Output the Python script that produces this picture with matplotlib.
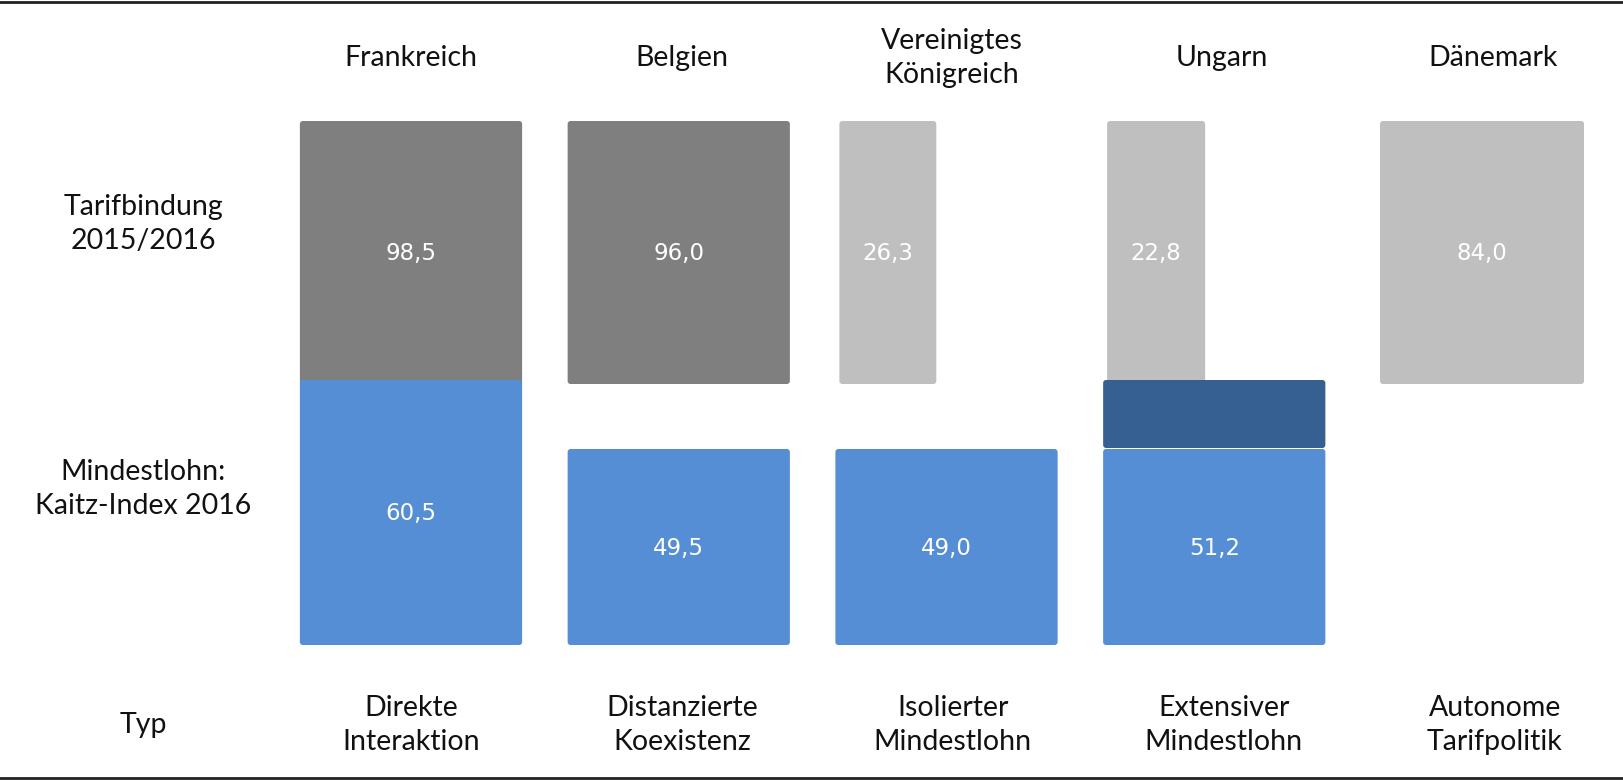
import matplotlib
matplotlib.use("Agg")
import matplotlib.pyplot as plt
from matplotlib.patches import FancyBboxPatch

# Daten
laender = ["Frankreich", "Belgien", "Vereinigtes\nKönigreich", "Ungarn", "Dänemark"]
typen = [
    "Direkte\nInteraktion",
    "Distanzierte\nKoexistenz",
    "Isolierter\nMindestlohn",
    "Extensiver\nMindestlohn",
    "Autonome\nTarifpolitik",
]
zeilen = ["Tarifbindung\n2015/2016", "Mindestlohn:\nKaitz-Index 2016", "Typ"]
tarifbindung = [98.5, 96.0, 26.3, 22.8, 84.0]
kaitz_index = [60.5, 49.5, 49.0, 51.2, None]

# Schema-Layout (Spalteneinheiten horizontal, Pixelzeilen vertikal)
col_w = 0.83
tarif_w = [0.83, 0.83, 0.362, 0.366, 0.762]
tarif_col = ["#7f7f7f", "#7f7f7f", "#bfbfbf", "#bfbfbf", "#bfbfbf"]
tarif_top, tarif_bot = 121, 384
kaitz_top = [380, 449, 449, 449, None]
kaitz_bot = 645
extra_top = [None, None, None, 380, None]  # Ungarn: zusätzliches Segment
blau, dunkelblau = "#558ed5", "#376092"

s = 267.75          # Pixel je Spalte
x0 = 411            # Pixel der ersten Spaltenmitte
W, H = 1623, 780

fig = plt.figure(figsize=(W / 100, H / 100), dpi=100)
ax = fig.add_axes([0, 0, 1, 1])
ax.set_xlim(-x0 / s, (W - x0) / s)
ax.set_ylim(H, 0)
ax.axis("off")

r = 3 / s  # Eckenradius


def box(x, y, w, h, color):
    ax.add_patch(
        FancyBboxPatch(
            (x, y), w, h,
            boxstyle=f"round,pad=0,rounding_size={r}",
            mutation_aspect=s,
            facecolor=color, edgecolor="none",
        )
    )


text_kw = dict(ha="center", va="center", fontsize=20.5, color="#111111",
               family=["Lato", "DejaVu Sans"], linespacing=1.4)
val_kw = dict(ha="center", va="center", fontsize=16.5, color="white",
              family="DejaVu Sans")

for i, (land, typ) in enumerate(zip(laender, typen)):
    left = i - col_w / 2
    # Tarifbindung
    tw = tarif_w[i]
    tx = left + 4 / s if tw < 0.5 else i - tw / 2
    box(tx, tarif_top, tw, tarif_bot - tarif_top, tarif_col[i])
    ax.text(tx + tw / 2, (tarif_top + tarif_bot) / 2 + 1,
            f"{tarifbindung[i]:.1f}".replace(".", ","), **val_kw)
    # Mindestlohn
    if kaitz_index[i] is not None:
        kt = kaitz_top[i]
        box(left, kt, col_w, kaitz_bot - kt, blau)
        if extra_top[i] is not None:
            box(left, extra_top[i], col_w, kt - extra_top[i] - 1, dunkelblau)
        ax.text(i, (kt + kaitz_bot) / 2 + 1,
                f"{kaitz_index[i]:.1f}".replace(".", ","), **val_kw)
    ax.text(i + 0.01 * i, 58, land, **text_kw)
    ax.text(i + 0.012 * i, 725, typ, **text_kw)

for label, y in zip(zeilen, [224, 489, 725]):
    ax.text(-1.0, y, label, **text_kw)

ax.axhline(1.5, color="#222222", lw=2)
ax.axhline(777.5, color="#222222", lw=2)

fig.savefig("out.png", dpi=100)
